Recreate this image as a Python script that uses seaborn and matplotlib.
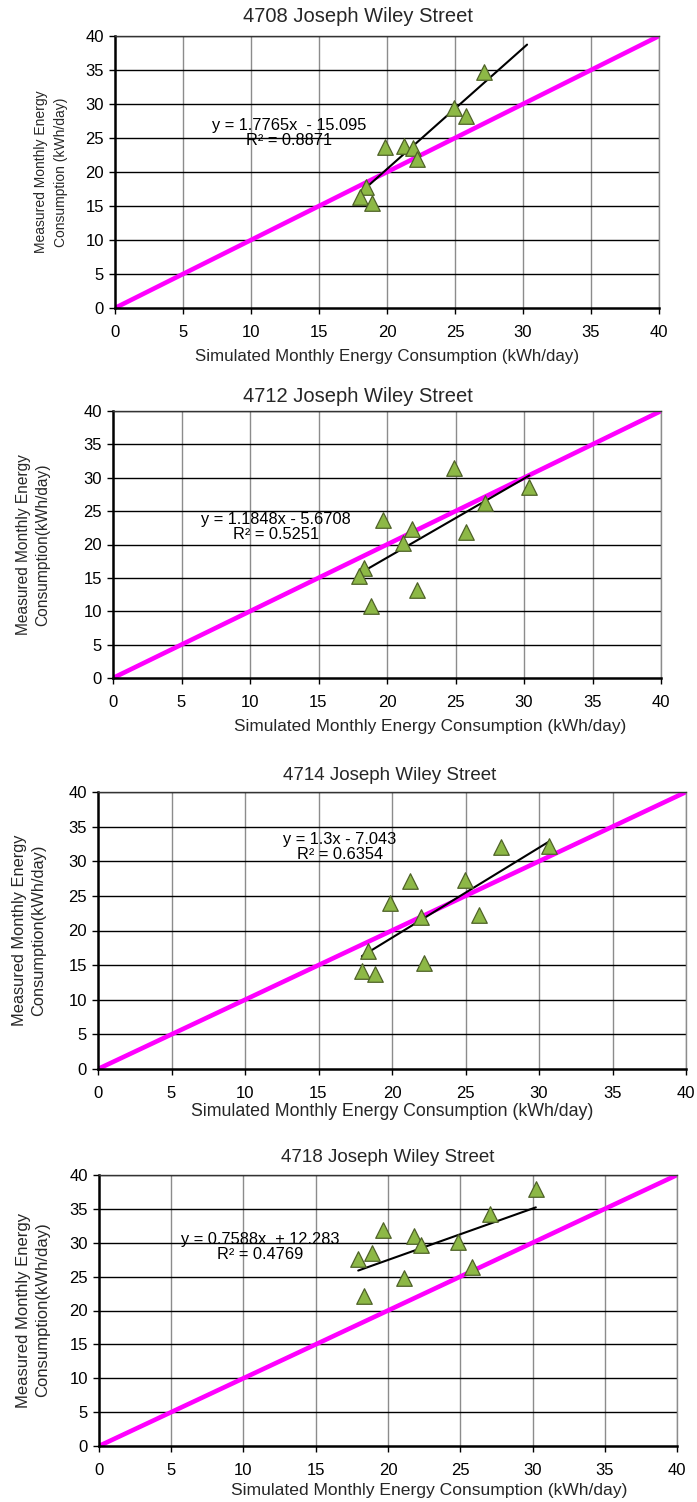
import numpy as np
import pandas as pd
import matplotlib
matplotlib.use("Agg")
import matplotlib.pyplot as plt
import seaborn as sns

# ---------------- data ----------------
titles = ["4708 Joseph Wiley Street", "4712 Joseph Wiley Street",
          "4714 Joseph Wiley Street", "4718 Joseph Wiley Street"]

sim_4708 = [27.15, 24.93, 25.80, 19.85, 21.25, 21.90, 22.20, 18.46, 18.00, 18.90]
meas_4708 = [34.75, 29.46, 28.20, 23.70, 23.80, 23.60, 21.90, 17.80, 16.30, 15.50]

sim_4712 = [30.39, 27.15, 19.73, 21.82, 25.77, 21.19, 24.86, 18.34, 17.93, 22.19, 18.83]
meas_4712 = [28.66, 26.25, 23.70, 22.30, 21.80, 20.20, 31.50, 16.45, 15.35, 13.20, 10.80]

sim_4714 = [30.70, 27.40, 21.25, 24.97, 19.85, 21.95, 25.90, 18.38, 17.95, 18.81, 22.20]
meas_4714 = [32.13, 32.00, 27.20, 27.30, 23.96, 21.90, 22.20, 17.10, 14.10, 13.66, 15.30]

sim_4718 = [30.23, 27.09, 19.65, 21.81, 22.28, 24.85, 18.86, 17.94, 25.80, 21.14, 18.31]
meas_4718 = [37.86, 34.17, 31.86, 31.02, 29.65, 30.13, 28.42, 27.54, 26.45, 24.82, 22.12]

slopes = [1.7765, 1.1848, 1.3, 0.7588]
intercepts = [-15.095, -5.6708, -7.043, 12.283]
r2_values = [0.8871, 0.5251, 0.6354, 0.4769]
eq_texts = ["y = 1.7765x  - 15.095", "y = 1.1848x - 5.6708",
            "y = 1.3x - 7.043", "y = 0.7588x  + 12.283"]
r2_texts = ["R² = 0.8871", "R² = 0.5251", "R² = 0.6354", "R² = 0.4769"]
fit_x_min = [18.0, 17.93, 17.95, 17.94]
fit_x_max = [30.3, 30.39, 30.70, 30.23]

x_ticks = [0, 5, 10, 15, 20, 25, 30, 35, 40]
y_ticks = [0, 5, 10, 15, 20, 25, 30, 35, 40]
xlabel = "Simulated Monthly Energy Consumption (kWh/day)"
ylabels = ["Measured Monthly Energy\nConsumption (kWh/day)",
           "Measured Monthly Energy\nConsumption(kWh/day)",
           "Measured Monthly Energy\nConsumption(kWh/day)",
           "Measured Monthly Energy\nConsumption(kWh/day)"]

sims = [sim_4708, sim_4712, sim_4714, sim_4718]
meas = [meas_4708, meas_4712, meas_4714, meas_4718]

# ---------------- layout (pixels) ----------------
W, H = 697, 1502
axes_px = [(115, 659, 36, 308), (113, 661, 411, 678),
           (98, 686, 792, 1069), (99, 677, 1175, 1446)]
title_px = [(358, 17), (358, 397), (390, 775), (388, 1158)]
title_size = [14.5, 14.5, 13.5, 13.5]
xlabel_px = [(387, 356), (430, 727), (392, 1112), (429, 1490)]
xlabel_size = [12.2, 12.4, 12.8, 12.6]
ylabel_px = [(51, 172), (33, 545), (29, 930), (33, 1310)]
ylabel_size = [10.0, 11.2, 11.8, 12.0]
ylabel_ls = [1.5, 1.35, 1.35, 1.35]
eq_pos = [(12.8, 25.7), (11.9, 22.6), (16.46, 32.0), (11.16, 29.35)]

sns.set_theme(style="white")
plt.rcParams["font.family"] = ["Liberation Sans", "DejaVu Sans"]

fig = plt.figure(figsize=(W / 100, H / 100), dpi=100)
fig.patch.set_facecolor("white")

for i in range(4):
    l, r, t, b = axes_px[i]
    ax = fig.add_axes([l / W, 1 - b / H, (r - l) / W, (b - t) / H])
    ax.set_facecolor("white")

    # gridlines
    for v in x_ticks[1:]:
        ax.axvline(v, color="#8c8c8c", lw=1.0, zorder=0)
    for v in y_ticks[1:]:
        ax.axhline(v, color="black", lw=1.0, zorder=0)

    # 1:1 line
    ref = np.array([0, 40])
    ax.plot(ref, ref, color="#FF00FF", lw=3.3, zorder=2, solid_capstyle="butt")

    # trend line
    fx = np.array([fit_x_min[i], fit_x_max[i]])
    ax.plot(fx, slopes[i] * fx + intercepts[i], color="black", lw=1.5, zorder=3)

    df = pd.DataFrame({"sim": sims[i], "meas": meas[i]})
    sns.scatterplot(data=df, x="sim", y="meas", marker="^", s=125,
                    color="#8DB846", edgecolor="#4F6228", linewidth=0.9,
                    ax=ax, zorder=4, legend=False)

    ax.set_xlim(0, 40)
    ax.set_ylim(0, 40)
    ax.set_xticks(x_ticks)
    ax.set_yticks(y_ticks)
    ax.set_xlabel("")
    ax.set_ylabel("")
    ax.tick_params(axis="both", which="both", direction="out", length=4,
                   width=1, color="black", labelsize=12, labelcolor="black")
    ax.tick_params(axis="x", pad=8)
    ax.tick_params(axis="y", pad=4)
    ax.xaxis.set_ticks_position("bottom")
    ax.yaxis.set_ticks_position("left")
    for s in ["left", "bottom"]:
        ax.spines[s].set_color("black")
        ax.spines[s].set_linewidth(1.8)
    ax.spines["top"].set_color("#333333")
    ax.spines["top"].set_linewidth(1.0)
    ax.spines["right"].set_color("#8c8c8c")
    ax.spines["right"].set_linewidth(1.0)

    ex, ey = eq_pos[i]
    ax.text(ex, ey, eq_texts[i] + "\n" + r2_texts[i], ha="center", va="center",
            multialignment="center", fontsize=11.8, color="black", zorder=5,
            linespacing=1.0)

    fig.text(title_px[i][0] / W, 1 - title_px[i][1] / H, titles[i],
             ha="center", va="center", fontsize=title_size[i])
    fig.text(xlabel_px[i][0] / W, 1 - xlabel_px[i][1] / H, xlabel,
             ha="center", va="center", fontsize=xlabel_size[i])
    fig.text(ylabel_px[i][0] / W, 1 - ylabel_px[i][1] / H, ylabels[i],
             ha="center", va="center", rotation=90, fontsize=ylabel_size[i],
             multialignment="center", linespacing=ylabel_ls[i])

fig.savefig("out.png", dpi=100, facecolor="white")
